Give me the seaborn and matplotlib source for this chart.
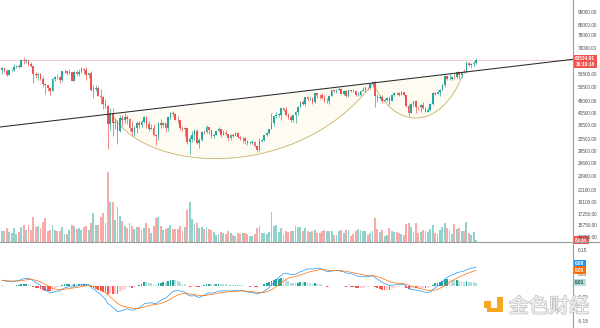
import numpy as np
import pandas as pd
import matplotlib
matplotlib.use("Agg")
import matplotlib.pyplot as plt
import seaborn as sns
from matplotlib.path import Path
from matplotlib.patches import PathPatch, Rectangle
from matplotlib.lines import Line2D
from matplotlib.transforms import blended_transform_factory
from matplotlib.ticker import FixedLocator, FixedFormatter, NullLocator
import matplotlib.patheffects as pe

# ---------------- data (BTC daily, thousands USD) ----------------
warmup_close = [49.6, 48.4, 50.3, 48.4, 48.8, 48.9, 51.0, 52.4, 54.9, 55.9, 57.8, 57.2, 61.2,
                59.0, 55.6, 56.9, 58.9, 57.6, 58.3, 58.1, 57.4, 54.5, 54.3, 52.3, 51.3, 55.1,
                55.9, 55.8, 57.6, 58.8, 58.9, 58.7, 59.0, 57.1, 58.2]

close = [
    # Apr 5 - Apr 30
    59.1, 57.6, 56.0, 58.1, 58.1, 59.8, 60.0, 59.9, 63.6, 62.9, 63.2, 61.4, 60.0, 56.2, 55.7, 56.5,
    53.8, 51.7, 51.2, 50.1, 49.0, 54.0, 55.0, 54.8, 53.6, 57.7,
    # May
    57.8, 56.6, 57.2, 53.2, 57.5, 56.4, 57.4, 58.9, 58.3, 55.8, 56.7, 49.2, 49.7, 49.9, 46.8, 46.4,
    43.6, 42.9, 37.0, 40.6, 37.3, 37.5, 34.7, 38.8, 38.3, 39.3, 38.5, 35.7, 34.6, 35.7, 37.3,
    # Jun
    36.7, 37.6, 39.2, 36.9, 35.5, 35.8, 33.6, 33.4, 37.3, 36.7, 37.3, 35.6, 39.1, 40.5, 40.1, 38.3,
    38.1, 35.8, 35.5, 35.6, 31.7, 32.5, 33.7, 34.7, 31.6, 32.2, 34.6, 34.5, 35.9, 35.0,
    # Jul
    33.5, 33.8, 34.7, 35.3, 33.7, 34.2, 33.9, 32.9, 33.8, 33.5, 34.3, 33.1, 32.7, 32.8, 31.9, 31.4,
    31.5, 31.8, 30.8, 29.8, 32.1, 32.3, 33.6, 34.3, 35.4, 37.3, 39.4, 40.0, 40.0, 42.2, 41.6,
    # Aug
    39.9, 39.2, 38.2, 39.7, 40.9, 42.8, 44.6, 43.8, 46.3, 45.6, 45.6, 44.4, 47.8, 47.1, 47.0, 45.9,
    44.7, 44.7, 46.8, 49.3, 48.9, 49.3, 49.5, 47.7, 48.9, 46.9, 49.1, 48.9, 48.8, 47.0, 47.1,
    # Sep
    48.8, 49.3, 50.0, 49.9, 51.8, 52.7, 46.9, 46.1, 46.4, 44.9, 45.2, 46.1, 44.9, 47.1, 48.1, 47.8,
    47.3, 48.3, 47.3, 43.0, 40.7, 43.6, 44.9, 42.8, 42.7, 43.2, 42.2, 41.0, 41.5, 43.8,
    # Oct 1 - Oct 19
    48.1, 47.7, 48.2, 49.2, 51.5, 55.3, 53.8, 53.9, 54.9, 54.7, 57.5, 56.0, 57.4, 57.3, 61.7, 60.9,
    61.5, 62.0, 63.53491,
]

high = [
    59.8, 59.4, 58.7, 58.2, 58.9, 61.2, 60.7, 61.2, 63.8, 64.9, 63.8, 63.6, 62.5, 60.4, 57.5, 57.0,
    56.8, 55.4, 52.1, 51.2, 50.6, 54.3, 55.5, 56.4, 55.2, 58.0,
    58.5, 57.9, 58.9, 57.2, 57.9, 58.4, 58.6, 59.5, 59.3, 59.6, 56.9, 58.0, 51.4, 51.5, 50.7, 49.8,
    46.6, 45.8, 43.5, 42.4, 42.2, 38.8, 38.3, 39.9, 39.8, 40.4, 40.0, 38.9, 37.9, 36.4, 37.5,
    37.9, 38.2, 39.5, 39.3, 37.9, 36.8, 36.8, 34.0, 37.5, 38.4, 37.7, 37.4, 39.4, 41.0, 41.3, 40.5,
    39.5, 38.2, 36.4, 36.1, 35.7, 33.3, 34.9, 35.3, 35.5, 32.7, 34.7, 35.2, 36.6, 36.0,
    35.0, 33.9, 34.9, 35.9, 35.3, 35.0, 35.0, 33.9, 34.1, 34.2, 34.6, 34.6, 33.3, 33.1, 33.2, 32.2,
    31.9, 32.4, 31.9, 31.0, 32.8, 32.6, 33.6, 34.5, 35.4, 40.6, 39.5, 40.9, 40.6, 42.3, 42.4,
    42.6, 40.4, 39.8, 39.9, 41.4, 43.0, 44.7, 45.3, 46.5, 46.7, 46.8, 46.2, 47.9, 48.1, 47.4, 48.0,
    47.2, 46.0, 47.0, 49.4, 49.8, 49.5, 50.5, 49.9, 49.2, 49.3, 49.2, 49.3, 49.6, 48.9, 48.2,
    48.9, 50.4, 51.0, 50.6, 51.9, 52.9, 52.9, 47.4, 47.3, 47.0, 45.9, 46.5, 46.9, 47.2, 48.5, 48.5,
    48.2, 48.8, 48.4, 47.3, 43.6, 44.0, 45.0, 45.1, 42.9, 43.9, 44.3, 42.8, 42.6, 44.1,
    48.5, 48.4, 49.2, 49.5, 51.9, 55.8, 55.3, 56.1, 55.5, 56.6, 57.8, 57.7, 57.6, 58.5, 62.9, 62.4,
    61.7, 62.7, 64.4,
]

low = [
    56.5, 57.4, 55.5, 55.9, 57.7, 57.8, 59.4, 59.4, 59.9, 61.3, 62.0, 60.0, 59.6, 52.0, 54.3, 53.4,
    53.6, 50.6, 47.5, 48.8, 47.0, 48.8, 53.2, 53.9, 52.4, 53.1,
    57.0, 56.0, 56.5, 53.0, 52.9, 55.9, 55.5, 56.9, 56.2, 53.4, 54.4, 48.6, 46.0, 48.8, 46.6, 43.8,
    42.1, 42.3, 30.0, 35.0, 33.5, 35.3, 31.1, 34.4, 36.4, 37.2, 37.1, 34.7, 33.6, 33.4, 34.2,
    35.7, 35.9, 37.2, 35.6, 34.8, 35.3, 33.4, 31.0, 32.4, 35.8, 35.9, 34.6, 34.8, 38.7, 39.5, 38.1,
    37.4, 35.1, 34.8, 33.3, 31.3, 28.8, 31.7, 32.3, 31.3, 30.2, 32.0, 33.9, 34.2, 34.0,
    32.7, 32.7, 33.6, 34.4, 33.2, 33.6, 33.8, 32.1, 32.3, 33.0, 33.3, 32.7, 32.2, 31.6, 31.1, 31.0,
    31.2, 31.1, 30.4, 29.3, 29.5, 31.7, 32.0, 33.4, 33.9, 35.3, 36.4, 38.8, 39.3, 38.3, 41.1,
    39.5, 38.7, 37.7, 37.5, 37.3, 39.9, 42.5, 43.4, 42.9, 44.7, 45.4, 43.8, 44.2, 45.9, 45.5, 45.7,
    44.4, 44.2, 43.9, 46.6, 48.3, 48.1, 49.1, 47.6, 47.1, 46.3, 46.4, 48.4, 48.3, 46.9, 46.7,
    46.6, 48.6, 48.4, 49.4, 49.5, 50.5, 42.8, 44.4, 45.5, 44.1, 44.7, 44.8, 43.4, 44.7, 46.7, 47.0,
    46.7, 47.0, 46.8, 42.5, 39.6, 40.6, 43.1, 40.7, 41.7, 40.8, 42.1, 40.9, 40.8, 41.4,
    43.3, 47.1, 47.4, 46.9, 49.1, 50.4, 53.4, 53.6, 53.7, 54.1, 54.4, 53.9, 54.3, 56.8, 56.9, 60.2,
    59.0, 60.0, 61.3,
]

volume = [  # thousands BTC
    55, 55, 70, 50, 45, 70, 40, 50, 75, 85, 60, 85, 60, 125, 75, 80, 70, 100, 120, 55, 60, 85, 60, 55, 55, 75,
    40, 40, 60, 85, 80, 65, 70, 60, 75, 80, 60, 95, 145, 85, 85, 125, 145, 95, 350, 200, 200, 110, 175, 130,
    105, 80, 70, 95, 80, 65, 75,
    75, 60, 70, 95, 70, 45, 80, 120, 125, 80, 60, 65, 70, 85, 65, 65, 65, 80, 55, 75, 160, 200, 115, 90,
    95, 70, 75, 65, 75, 65,
    60, 50, 35, 40, 50, 45, 40, 55, 45, 35, 30, 45, 40, 45, 45, 40, 30, 30, 40, 70, 80, 45, 45, 40, 50,
    150, 80, 85, 50, 70, 40,
    55, 50, 55, 55, 80, 75, 75, 55, 70, 55, 50, 55, 60, 45, 45, 55, 60, 55, 55, 55, 35, 35, 55, 60, 45,
    60, 60, 30, 40, 55, 65,
    60, 55, 55, 35, 45, 55, 120, 65, 50, 60, 30, 35, 70, 55, 50, 50, 45, 40, 35, 90, 95, 75, 50, 95, 45,
    50, 60, 55, 50, 65,
    85, 45, 40, 60, 75, 95, 70, 60, 40, 90, 65, 70, 55, 55, 100, 45, 35, 50, 8.03,
]

price_ticks = [95000, 85000, 78000, 70000, 56500, 50500, 45000, 40500, 36500, 32500,
               29500, 26600, 23900, 21100, 19100, 17250, 15750, 14250]
macd_ticks = [0.15, 0.05, -0.05, -0.15]
last_price = 63534.91
countdown = "16:19:16"
volume_label = "8.03K"

# drawings (bar index, price)
trend_idx = [-0.83, 237.3]
trend_price = [36020, 63750]
cup_idx = [46.1, 61.5, 123.9, 154.2]
cup_price = [39500, 24000, 23000, 52200]
handle_idx = [154.2, 163.3, 182.5, 191.6]
handle_price = [52200, 34800, 34800, 56300]

# ---------------- derived series ----------------
n = len(close)
idx = np.arange(n)
c = np.array(close) * 1000
o = np.r_[warmup_close[-1], close[:-1]] * 1000
h = np.maximum(np.array(high) * 1000, np.maximum(o, c))
l = np.minimum(np.array(low) * 1000, np.minimum(o, c))
vol = np.array(volume, dtype=float)
up = c >= o

allc = pd.Series(np.log(np.r_[warmup_close, close] * 1000.0))
ema12 = allc.ewm(span=12, adjust=False).mean()
ema26 = allc.ewm(span=26, adjust=False).mean()
macd_full = ema12 - ema26
sig_full = macd_full.ewm(span=9, adjust=False).mean()
macd = macd_full.values[-n:]
signal = sig_full.values[-n:]
hist = macd - signal

# ---------------- styling ----------------
sns.set_theme(style="white")
plt.rcParams['font.family'] = ['Liberation Sans', 'DejaVu Sans']

GREEN, RED = '#26a69a', '#ef5350'
VGREEN, VRED = '#92d2cc', '#f7aaa8'
AXC = '#9e9e9e'
TXT = '#4d4d4d'
FS = 3.4

W, H = 600, 328
fig = plt.figure(figsize=(W / 100, H / 100), dpi=100)
fig.patch.set_facecolor('white')
ax = fig.add_axes([0, 1 - 242 / H, 573 / W, 242 / H])
axm = fig.add_axes([0, 0, 573 / W, 85 / H])
axv = ax.twinx()
ax.set_zorder(axv.get_zorder() + 1)
ax.patch.set_visible(False)

xlim = (-0.83, 237.3)

# volume
axv.bar(idx, vol, width=0.78, color=np.where(up, VGREEN, VRED), linewidth=0)
axv.set_ylim(0, 1210)
axv.set_xlim(*xlim)
axv.set_yticks([])
axv.tick_params(right=False, labelright=False)
for s in axv.spines.values():
    s.set_visible(False)

# price
ax.set_yscale('log')
ax.set_ylim(13663, 105100)
ax.set_xlim(*xlim)

def arc_path(xs, ps, closed=False):
    verts = list(zip(xs, ps))
    codes = [Path.MOVETO, Path.CURVE4, Path.CURVE4, Path.CURVE4]
    if closed:
        verts.append(verts[0])
        codes.append(Path.CLOSEPOLY)
    return Path(verts, codes)

for xs, ps in [(cup_idx, cup_price), (handle_idx, handle_price)]:
    ax.add_patch(PathPatch(arc_path(xs, ps, True), facecolor='#fefcf2', edgecolor='none', zorder=0.5))
    ax.add_patch(PathPatch(arc_path(xs, ps), facecolor='none', edgecolor='#cdb56e', lw=0.65, zorder=1.5))

ax.axhline(last_price, color='#f4c4c4', lw=0.6, zorder=1)
colors = np.where(up, GREEN, RED)
ax.vlines(idx, l, h, colors=colors, lw=0.5, zorder=2)
body_h = np.maximum(np.abs(c - o), c * 0.0015)
ax.bar(idx, body_h, bottom=np.minimum(o, c), width=0.68, color=colors, linewidth=0, zorder=3)
ax.plot(trend_idx, trend_price, color='#2a2a2a', lw=0.75, zorder=4)

ax.yaxis.tick_right()
ax.yaxis.set_major_locator(FixedLocator(price_ticks))
ax.yaxis.set_major_formatter(FixedFormatter([f"{v:.2f}" for v in price_ticks]))
ax.yaxis.set_minor_locator(NullLocator())
ax.tick_params(axis='y', which='both', length=0, pad=3.2, labelsize=FS, labelcolor=TXT)
ax.set_xticks([])
for k, s in ax.spines.items():
    s.set_visible(k == 'right')
ax.spines['right'].set_color(AXC)
ax.spines['right'].set_linewidth(0.8)

# MACD
hist_prev = np.r_[hist[0], hist[:-1]]
hcol = np.where(hist >= 0,
                np.where(hist > hist_prev, '#26a69a', '#b2dfdb'),
                np.where(hist > hist_prev, '#ffcdd2', '#ff5252'))
axm.bar(idx, hist, width=0.75, color=hcol, linewidth=0, zorder=2)
sns.lineplot(x=idx, y=macd, ax=axm, color='#2196f3', lw=0.5, zorder=3)
sns.lineplot(x=idx, y=signal, ax=axm, color='#ff6d00', lw=0.5, zorder=3)
axm.set_xlim(*xlim)
axm.set_ylim(-0.179, 0.18)
axm.yaxis.tick_right()
axm.set_yticks(macd_ticks)
axm.set_yticklabels([f"{v:.2f}" for v in macd_ticks])
axm.tick_params(axis='y', length=0, pad=3.2, labelsize=FS, labelcolor=TXT)
axm.set_xticks([])
axm.set_xlabel('')
axm.set_ylabel('')
for k, s in axm.spines.items():
    s.set_visible(k == 'right')
axm.spines['right'].set_color(AXC)
axm.spines['right'].set_linewidth(0.8)

# pane separator
sep_y = 1 - 242 / H
fig.add_artist(Line2D([0, 1], [sep_y, sep_y], transform=fig.transFigure, color=AXC, lw=0.8))

# value tags on the scale
def tag(axis, y, text, fc, tc, va='center', dy=0.0):
    tr = blended_transform_factory(axis.transAxes, axis.transData)
    axis.annotate(text, xy=(1.0, y), xycoords=tr, xytext=(1.6, dy), textcoords='offset points',
                  ha='left', va=va, fontsize=FS, color=tc, fontweight='bold', linespacing=1.1,
                  bbox=dict(boxstyle='square,pad=0.3', fc=fc, ec='none'),
                  annotation_clip=False, zorder=10)

tag(ax, last_price, f"{last_price:.2f}\n{countdown}", RED, 'white', va='top', dy=2.4)
tag(axv, vol[-1], volume_label, RED, 'white')
m_last, s_last, h_last = macd[-1], signal[-1], hist[-1]
m_y = max(m_last, s_last + 0.028) if m_last >= s_last else min(m_last, s_last - 0.028)
tag(axm, m_y, f"{m_last:.2f}", '#2196f3', 'white')
tag(axm, s_last, f"{s_last:.2f}", '#ff6d00', 'white')
tag(axm, h_last, f"{h_last:.2f}", hcol[-1], '#1b4d47')

# watermark
def px_rect(x0, y0, x1, y1, color):
    fig.add_artist(Rectangle((x0 / W, 1 - y1 / H), (x1 - x0) / W, (y1 - y0) / H,
                             transform=fig.transFigure, color=color, lw=0, zorder=20))

px_rect(484, 301, 491, 308, '#f5a623')
px_rect(497, 297, 503, 312, '#f5a623')
px_rect(487, 308, 503, 312, '#f5a623')
fig.text(549 / W, 1 - 307 / H, "金色财经", fontsize=14.5, ha='center', va='center',
         family=['Noto Sans CJK SC', 'DejaVu Sans'], color='#f4f4f4', zorder=20,
         path_effects=[pe.Stroke(linewidth=1.0, foreground='#bdbdbd'), pe.Normal()])

fig.savefig("out.png", dpi=100, facecolor='white')
